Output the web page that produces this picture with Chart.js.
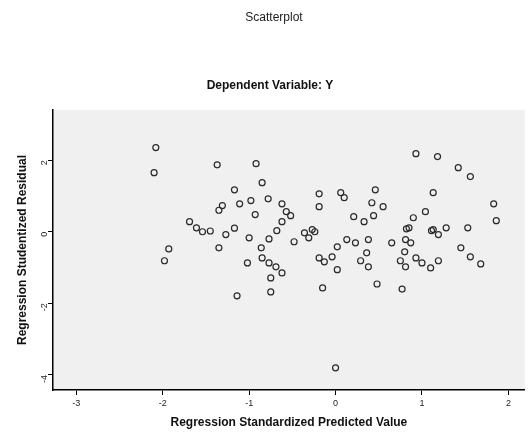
<!DOCTYPE html>
<html>
<head>
<meta charset="utf-8">
<script src="https://cdn.jsdelivr.net/npm/chart.js@4"></script>
<style>
  html, body { margin: 0; padding: 0; background: #fff; }
  #wrap { width: 529px; height: 434px; }
</style>
</head>
<body>
<div id="wrap"><canvas id="residualChart"></canvas></div>
<script>
// Scatterplot - Dependent Variable: Y
var predicted = [-2.08, -2.10, -1.37, -0.92, -0.85, -1.17, -1.31, -1.11, -0.98, -0.78,
    -0.93, -1.69, -1.61, -1.54, -1.17, -0.57, -0.62, -0.68, -1.93, -1.98,
    -1.14, -1.27, -1.00, -0.77, -0.86, -1.02, -0.85, -0.77, -0.69, -0.62,
    -0.75, -0.75, 0.93, 1.18, 1.42, 1.56, 1.13, -0.19, -0.19, 0.06,
    0.46, 0.42, 0.44, 0.21, 0.33, 1.83, 1.86, 1.04, 0.90, 0.85,
    1.11, 1.28, 1.53, -0.27, -0.36, -0.31, -0.48, 0.13, 0.23, 0.38,
    0.02, -0.04, -0.19, -0.13, 0.02, 0.36, 0.29, 0.38, 0.65, 0.81,
    0.87, 0.80, 0.75, 0.81, 0.93, 1.00, 1.10, 1.19, 0.82, 1.13,
    1.19, 1.45, 1.56, 1.68, -0.15, 0.48, 0.77, 0.00, -0.24, -1.35,
    -0.52, 0.55, -0.62, -1.35, -1.45, 0.10];
var residual = [2.35, 1.65, 1.87, 1.90, 1.37, 1.17, 0.73, 0.78, 0.87, 0.92,
    0.48, 0.28, 0.11, 0.00, 0.10, 0.56, 0.28, 0.03, -0.48, -0.81,
    -1.79, -0.08, -0.17, -0.20, -0.45, -0.87, -0.73, -0.87, -0.98, -1.15,
    -1.29, -1.68, 2.18, 2.10, 1.79, 1.54, 1.09, 1.06, 0.70, 1.09,
    1.17, 0.81, 0.45, 0.42, 0.28, 0.78, 0.31, 0.56, 0.39, 0.11,
    0.03, 0.11, 0.11, 0.06, -0.03, -0.17, -0.28, -0.22, -0.31, -0.22,
    -0.42, -0.70, -0.73, -0.84, -1.06, -0.59, -0.81, -0.98, -0.31, -0.22,
    -0.31, -0.56, -0.81, -0.98, -0.73, -0.87, -1.01, -0.81, 0.08, 0.06,
    -0.08, -0.45, -0.70, -0.90, -1.57, -1.46, -1.60, -3.80, 0.00, -0.45,
    0.45, 0.70, 0.78, 0.60, 0.02, 0.95];
var xTicks = [-3, -2, -1, 0, 1, 2];
var yTicks = [2, 0, -2, -4];

var points = predicted.map(function (x, i) { return { x: x, y: residual[i] }; });

var plotBackground = {
    id: 'plotBackground',
    beforeDraw: function (chart) {
        var a = chart.chartArea, c = chart.ctx;
        c.save();
        c.fillStyle = '#f0f0f0';
        c.fillRect(a.left, a.top, a.right - a.left, a.bottom - a.top);
        c.restore();
    }
};

var headings = {
    id: 'headings',
    afterDraw: function (chart) {
        var c = chart.ctx;
        c.save();
        c.fillStyle = '#222';
        c.textAlign = 'center';
        c.textBaseline = 'middle';
        c.font = '12px "Liberation Sans", Arial, sans-serif';
        c.fillText('Scatterplot', 274, 18);
        c.fillStyle = '#111';
        c.font = 'bold 12px "Liberation Sans", Arial, sans-serif';
        c.fillText('Dependent Variable: Y', 270, 86);
        c.restore();
    }
};

var ctx = document.getElementById('residualChart').getContext('2d');
var residualChart = new Chart(ctx, {
    type: 'scatter',
    data: {
        datasets: [{
            label: 'Residuals',
            data: points,
            pointRadius: 3,
            pointHoverRadius: 3,
            pointBorderWidth: 1.2,
            borderColor: '#2a2a2a',
            backgroundColor: 'rgba(0,0,0,0)'
        }]
    },
    options: {
        responsive: true,
        maintainAspectRatio: false,
        animation: false,
        layout: { padding: { top: 110, right: 2, left: 0, bottom: 0 } },
        plugins: {
            legend: { display: false },
            tooltip: { enabled: false }
        },
        scales: {
            x: {
                type: 'linear',
                min: -3.27,
                max: 2.19,
                afterBuildTicks: function (scale) {
                    scale.ticks = xTicks.map(function (v) { return { value: v }; });
                },
                afterFit: function (scale) { scale.height = 44; },
                grid: { drawOnChartArea: false, drawTicks: true, tickLength: 5, color: '#000' },
                border: { display: true, color: '#000', width: 1.5 },
                ticks: { color: '#222', font: { size: 9, family: '"Liberation Sans", Arial' }, padding: 3 },
                title: {
                    display: true,
                    text: 'Regression Standardized Predicted Value',
                    color: '#111',
                    font: { size: 12, weight: 'bold', family: '"Liberation Sans", Arial' },
                    padding: { top: 0, bottom: 4 }
                }
            },
            y: {
                type: 'linear',
                min: -4.42,
                max: 3.4,
                afterBuildTicks: function (scale) {
                    scale.ticks = yTicks.map(function (v) { return { value: v }; });
                },
                afterFit: function (scale) { scale.width = 53; },
                grid: { drawOnChartArea: false, drawTicks: true, tickLength: 5, color: '#000' },
                border: { display: true, color: '#000', width: 1.5 },
                ticks: { color: '#222', font: { size: 9, family: '"Liberation Sans", Arial' }, padding: 3, minRotation: 90, maxRotation: 90 },
                title: {
                    display: true,
                    text: 'Regression Studentized Residual',
                    color: '#111',
                    font: { size: 12, weight: 'bold', family: '"Liberation Sans", Arial' },
                    padding: { top: 15, bottom: 0 }
                }
            }
        }
    },
    plugins: [plotBackground, headings]
});
</script>
</body>
</html>
